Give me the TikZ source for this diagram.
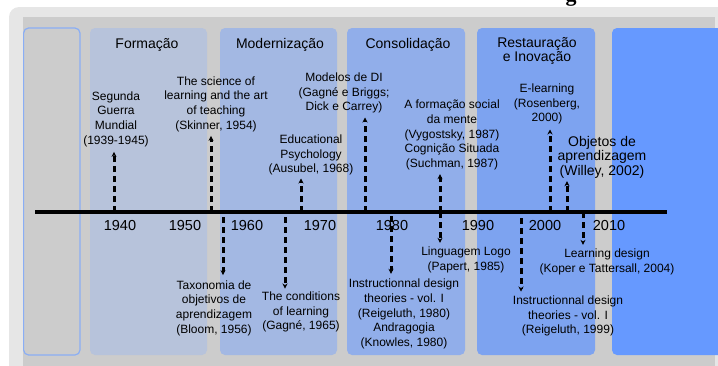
\documentclass[tikz,border=0pt]{standalone}
\usepackage{fontspec}
\setmainfont{Liberation Sans}
\newfontfamily\titlefont{Liberation Serif}
\usetikzlibrary{arrows.meta}

\definecolor{framegray}{HTML}{E6E6E6}
\definecolor{boardgray}{HTML}{CCCCCC}
\definecolor{edgeblue}{HTML}{8AAEF5}
\definecolor{eraone}{HTML}{B7C3DB}
\definecolor{eratwo}{HTML}{A3B8E3}
\definecolor{erathree}{HTML}{91AEEA}
\definecolor{erafour}{HTML}{7DA3F0}
\definecolor{erafive}{HTML}{6699FF}

\begin{document}
\begin{tikzpicture}[x=1pt, y=-1pt, >={Stealth[length=5pt,width=5pt]}, line join=round,
    panel/.style={rounded corners=5pt},
    eratitle/.style={font=\fontsize{14}{13}\selectfont, align=center, inner sep=0pt},
    yearlabel/.style={font=\fontsize{14.5}{16}\selectfont, inner sep=0pt},
    event/.style={font=\fontsize{12}{14.7}\selectfont, align=center, inner sep=0pt},
    bigevent/.style={font=\fontsize{14}{14.5}\selectfont, align=center, inner sep=0pt},
    eventarrow/.style={->, line width=3pt, dash pattern=on 6pt off 4pt}]

          % Fix the page to the size of the picture
          \useasboundingbox (0,0) rectangle (718,365);

          % Background frame and board
          \fill[framegray, rounded corners=10pt] (9,7) rectangle (760,400);
          \fill[boardgray] (23,17) rectangle (715,400);
          \node[font=\titlefont\bfseries\fontsize{22}{24}\selectfont, anchor=base, inner sep=0pt] (TitleTail) at (571,1) {g};

          % Era panels
          \filldraw[fill=boardgray, draw=edgeblue, line width=1.2pt, panel] (23.6,28) rectangle (80,355);
          \fill[eraone, panel] (90,28) rectangle (207,355);
          \fill[eratwo, panel] (220,28) rectangle (337,355);
          \fill[erathree, panel] (347,28) rectangle (465,355);
          \fill[erafour, panel] (477,28) rectangle (595,355);
          \fill[erafive, panel] (612,28) rectangle (725,355);

          % Era titles
          \node[eratitle] (Formacao) at (147,45) {Formação};
          \node[eratitle] (Modernizacao) at (280,45) {Modernização};
          \node[eratitle] (Consolidacao) at (408,45) {Consolidação};
          \node[eratitle] (Restauracao) at (537,51) {Restauração\\e Inovação};

          % Ends of the time line
          \coordinate (LineStart) at (35,212);
          \coordinate (LineEnd) at (667,212);

          % Feet of the event arrows on the time line
          \coordinate (SegundaFoot) at (114,212);
          \coordinate (SkinnerFoot) at (211,212);
          \coordinate (AusubelFoot) at (301,212);
          \coordinate (ModelosFoot) at (365,212);
          \coordinate (VygotskyFoot) at (440,212);
          \coordinate (RosenbergFoot) at (550,212);
          \coordinate (WilleyFoot) at (567,212);
          \coordinate (BloomFoot) at (223,212);
          \coordinate (GagneFoot) at (285,212);
          \coordinate (ReigeluthFoot) at (391,212);
          \coordinate (PapertFoot) at (440,212);
          \coordinate (ReigeluthLateFoot) at (521,212);
          \coordinate (KoperFoot) at (583,212);

          % Events above the line
          \node[event] (Segunda) at (116,119) {Segunda\\Guerra\\Mundial\\(1939-1945)};
          \node[event] (Skinner) at (216,104) {The science of\\learning and the art\\of teaching\\(Skinner, 1954)};
          \node[event] (Ausubel) at (311,155) {Educational\\Psychology\\(Ausubel, 1968)};
          \node[event] (Modelos) at (344,93) {Modelos de DI\\(Gagné e Briggs;\\Dick e Carrey)};
          \node[event] (Vygotsky) at (452,135) {A formação social\\da mente\\(Vygostsky, 1987)\\Cognição Situada\\(Suchman, 1987)};
          \node[event] (Rosenberg) at (547,104) {E-learning\\(Rosenberg,\\2000)};
          \node[bigevent] (Willey) at (602,157) {Objetos de\\aprendizagem\\(Willey, 2002)};

          % Events below the line
          \node[event] (Bloom) at (214,308) {Taxonomia de\\objetivos de\\aprendizagem\\(Bloom, 1956)};
          \node[event] (Gagne) at (301,312) {The conditions\\of learning\\(Gagné, 1965)};
          \node[event] (Reigeluth) at (404,314) {Instructionnal design\\theories - vol. I\\(Reigeluth, 1980)\\Andragogia\\(Knowles, 1980)};
          \node[event] (Papert) at (466,260) {Linguagem Logo\\(Papert, 1985)};
          \node[event] (ReigeluthLate) at (568,316) {Instructionnal design\\theories - vol. I\\(Reigeluth, 1999)};
          \node[event] (Koper) at (607,262) {Learning design\\(Koper e Tattersall, 2004)};

          % Dashed arrows from the line up to the events
          \draw[eventarrow, shorten >=5pt] (SegundaFoot) -- (SegundaFoot |- Segunda.south);
          \draw[eventarrow, shorten >=4pt] (SkinnerFoot) -- (SkinnerFoot |- Skinner.south);
          \draw[eventarrow, shorten >=3pt] (AusubelFoot) -- (AusubelFoot |- Ausubel.south);
          \draw[eventarrow, shorten >=4pt] (ModelosFoot) -- (ModelosFoot |- Modelos.south);
          \draw[eventarrow, shorten >=4pt] (VygotskyFoot) -- (VygotskyFoot |- Vygotsky.south);
          \draw[eventarrow, shorten >=5pt] (RosenbergFoot) -- (RosenbergFoot |- Rosenberg.south);
          \draw[eventarrow, shorten >=3pt] (WilleyFoot) -- (WilleyFoot |- Willey.south);

          % Dashed arrows from the line down to the events
          \draw[eventarrow, shorten <=5pt, shorten >=5pt] (BloomFoot) -- (BloomFoot |- Bloom.north);
          \draw[eventarrow, shorten <=5pt, shorten >=3pt] (GagneFoot) -- (GagneFoot |- Gagne.north);
          \draw[eventarrow, shorten <=4pt, shorten >=5pt] (ReigeluthFoot) -- (ReigeluthFoot |- Reigeluth.north);
          \draw[eventarrow, shorten <=0pt, shorten >=4pt] (PapertFoot) -- (PapertFoot |- Papert.north);
          \draw[eventarrow, shorten <=6pt, shorten >=4pt] (ReigeluthLateFoot) -- (ReigeluthLateFoot |- ReigeluthLate.north);
          \draw[eventarrow, shorten <=0pt, shorten >=4pt] (KoperFoot) -- (KoperFoot |- Koper.north);

          % The time line itself
          \draw[line width=4.5pt] (LineStart) -- (LineEnd);

          % Decade labels under the line
          \node[yearlabel] (Y1940) at (120,226) {1940};
          \node[yearlabel] (Y1950) at (185,226) {1950};
          \node[yearlabel] (Y1960) at (247,226) {1960};
          \node[yearlabel] (Y1970) at (320,226) {1970};
          \node[yearlabel] (Y1980) at (392,226) {1980};
          \node[yearlabel] (Y1990) at (478,226) {1990};
          \node[yearlabel] (Y2000) at (545,226) {2000};
          \node[yearlabel] (Y2010) at (609,226) {2010};
        \end{tikzpicture}
\end{document}
